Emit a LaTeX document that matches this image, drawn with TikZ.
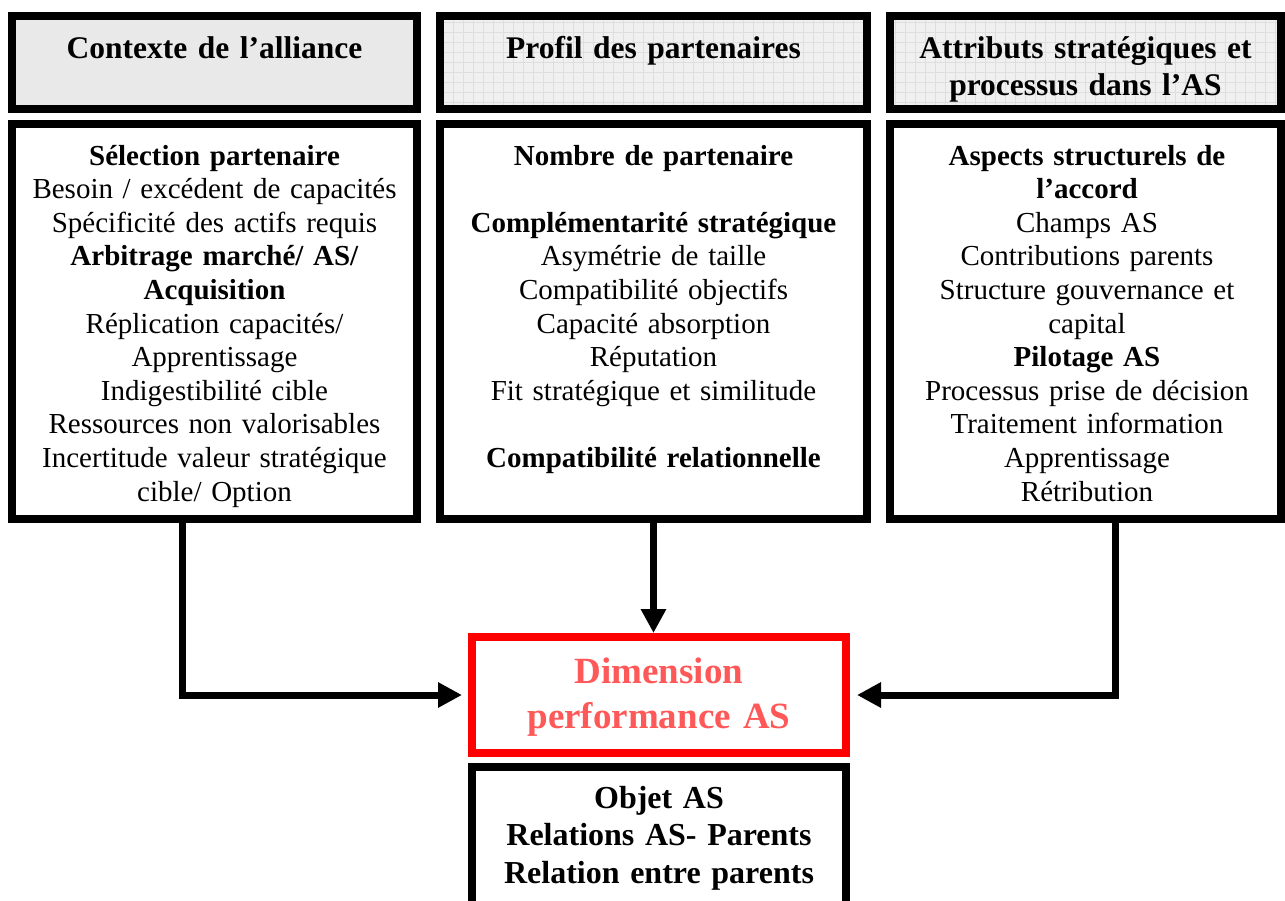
\documentclass[tikz,border=0pt]{standalone}
\usepackage{fontspec}
\setmainfont{Liberation Serif}
\usetikzlibrary{arrows.meta, positioning}
\definecolor{headgray}{RGB}{233,233,233}
\definecolor{gridfill}{RGB}{240,240,240}
\definecolor{gridline}{RGB}{222,222,222}
\definecolor{perfred}{RGB}{255,0,0}
\definecolor{perftext}{RGB}{255,88,88}
\newcommand{\bodyfont}{\fontsize{29}{33.6}\selectfont}
\newcommand{\headfont}{\fontsize{31.5}{37}\selectfont\bfseries}
\tikzset{
  frame/.style={draw=black, line width=8pt, inner sep=0pt}, % thick black border
  headbox/.style={frame, fill=headgray},
  gridbox/.style={frame, fill=gridfill,
    path picture={\draw[gridline, line width=0.5pt]
      (path picture bounding box.south west) grid[step=10pt]
      (path picture bounding box.north east);}},
  headtext/.style={font=\headfont, align=center, text width=380pt, inner sep=0pt, anchor=base},
  bodytext/.style={font=\bodyfont, align=center, text width=380pt, inner sep=0pt, anchor=base},
  flow/.style={line width=7pt, line join=miter, -{Triangle[length=24pt,width=24pt]}},
}
\begin{document}
\begin{tikzpicture}[x=1pt, y=-1pt]
  \useasboundingbox (0,0) rectangle (1285,900);

  % headers
  \node[headbox, minimum width=405pt, minimum height=93pt] (ctxhead) at (214.5,62.5) {};
  \node[gridbox, minimum width=427pt, minimum height=93pt] (profhead) at (653.5,62.5) {};
  \node[gridbox, minimum width=391pt, minimum height=93pt] (attrhead) at (1085.5,62.5) {};
  \node[headtext] (ctxtitle) at (214.5,58) {Contexte de l’alliance};
  \node[headtext] (proftitle) at (653.5,58) {Profil des partenaires};
  \node[headtext] (attrtitle) at (1085.5,58) {Attributs stratégiques et\\processus dans l’AS};

  % body boxes
  \node[frame, minimum width=405pt, minimum height=395pt] (ctxbody) at (214.5,321.5) {};
  \node[frame, minimum width=427pt, minimum height=395pt] (profbody) at (653.5,321.5) {};
  \node[frame, minimum width=391pt, minimum height=395pt] (attrbody) at (1085.5,321.5) {};

  \node[bodytext] (ctxtext) at (214.5,165) {\textbf{Sélection partenaire}\\
    Besoin / excédent de capacités\\
    Spécificité des actifs requis\\
    \textbf{Arbitrage marché/ AS/}\\
    \textbf{Acquisition}\\
    Réplication capacités/\\
    Apprentissage\\
    Indigestibilité cible\\
    Ressources non valorisables\\
    Incertitude valeur stratégique\\
    cible/ Option};
  \node[bodytext] (proftext) at (653.5,165) {\textbf{Nombre de partenaire}\\[33.6pt]
    \textbf{Complémentarité stratégique}\\
    Asymétrie de taille\\
    Compatibilité objectifs\\
    Capacité absorption\\
    Réputation\\
    Fit stratégique et similitude\\[33.6pt]
    \textbf{Compatibilité relationnelle}};
  \node[bodytext] (attrtext) at (1087,165) {\textbf{Aspects structurels de}\\
    \textbf{l’accord}\\
    Champs AS\\
    Contributions parents\\
    Structure gouvernance et\\
    capital\\
    \textbf{Pilotage AS}\\
    Processus prise de décision\\
    Traitement information\\
    Apprentissage\\
    Rétribution};

  % performance and objects
  \node[draw=perfred, line width=8pt, minimum width=374pt, minimum height=116pt] (perf) at (659,695) {};
  \node[font=\fontsize{37}{45}\selectfont\bfseries, text=perftext, align=center,
    text width=360pt, inner sep=0pt, anchor=base] (perftitle) at (659,683)
    {Dimension\\performance AS};
  \node[frame, minimum width=374pt, minimum height=150pt] (objbox) at (659,842) {};
  \node[font=\fontsize{32}{37.5}\selectfont\bfseries, align=center,
    text width=360pt, inner sep=0pt, anchor=base] (objtext) at (659,808)
    {Objet AS\\Relations AS- Parents\\Relation entre parents};

  % connectors
  \coordinate (ctxturn) at (182,695);
  \coordinate (attrturn) at (1115,695);
  \draw[flow, shorten >=6pt] (ctxbody.south -| ctxturn) -- (ctxturn) -- (perf.west);
  \draw[flow, shorten >=7pt] (attrbody.south -| attrturn) -- (attrturn) -- (perf.east);
  \draw[flow] (profbody.south) -- (profbody.south |- perf.north);
\end{tikzpicture}
\end{document}
